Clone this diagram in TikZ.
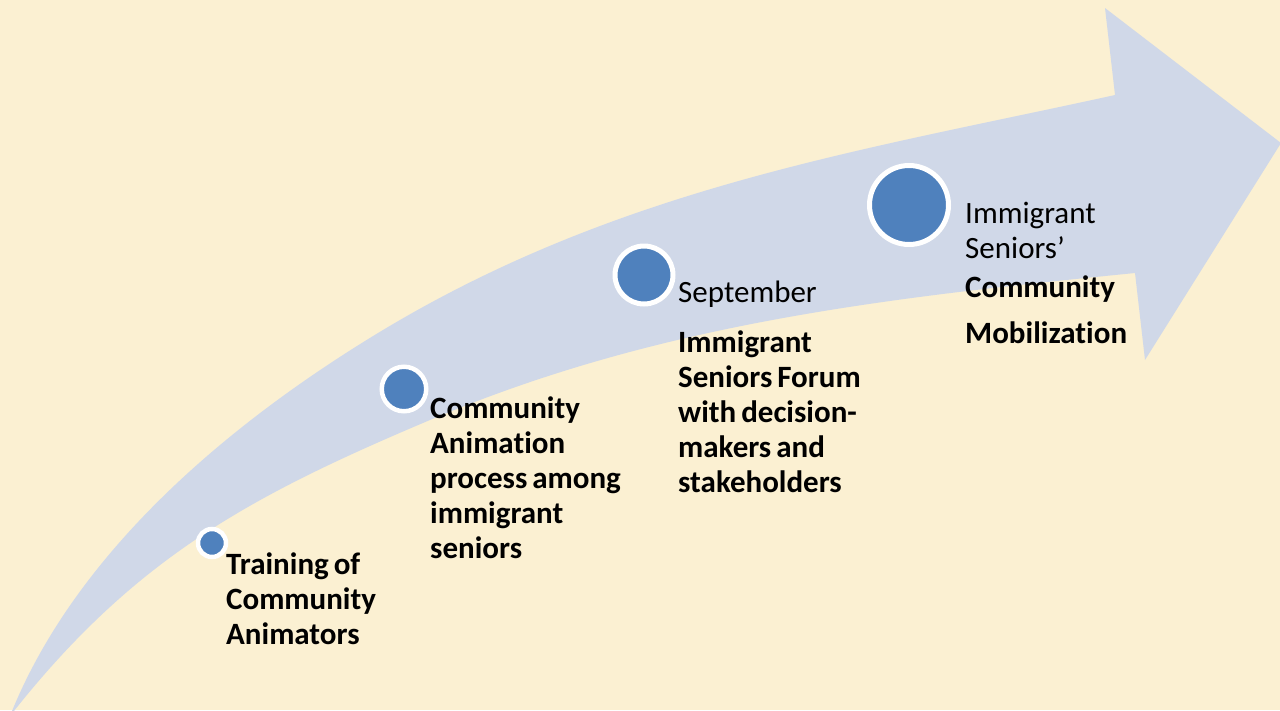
\documentclass[tikz,border=0pt]{standalone}
\usepackage{fontspec}
\setmainfont{Carlito}[Ligatures={TeX,NoCommon}]
\definecolor{bg}{RGB}{251,240,210}
\definecolor{arrowfill}{RGB}{208,216,232}
\definecolor{dotblue}{RGB}{79,129,189}
\newcommand\tightsp{\spaceskip=0.16em plus 0.05em\relax}
\begin{document}
\begin{tikzpicture}[x=1pt,y=-1pt,
  dot/.style={circle,fill=dotblue,draw=white,inner sep=0pt},
  lbl/.style={anchor=base west,inner sep=0pt,align=left,text width=260pt},
  boldtxt/.style={font=\bfseries\fontsize{31}{35}\selectfont},
  regtxt/.style={font=\fontsize{31}{35}\selectfont}]
\fill[bg] (0,0) rectangle (1280,710);
\useasboundingbox (0,0) rectangle (1280,710);
\begin{scope}
\clip (0,0) rectangle (1280,710);
\fill[arrowfill] (10,716) .. controls (80,540) and (250,410) .. (383,330)
  .. controls (623,186) and (865,150) .. (1115,95)
  -- (1105,8) -- (1281,143) -- (1145,360) -- (1135,273)
  .. controls (885,298) and (660,323) .. (430,420)
  .. controls (250,496) and (134,558) .. (10,716) -- cycle;
\end{scope}
\node[dot,minimum size=28pt,line width=4.5pt] (d1) at (212,543) {};
\node[dot,minimum size=44.5pt,line width=4.5pt] (d2) at (404,389) {};
\node[dot,minimum size=58pt,line width=5pt] (d3) at (644,275) {};
\node[dot,minimum size=79pt,line width=5pt] (d4) at (909,205) {};
\node[lbl,boldtxt] (t1) at (226,574) {\tightsp Training of\\Community\\Animators};
\node[lbl,boldtxt] (t2) at (430,418) {\tightsp Community\\Animation\\process among\\immigrant\\seniors};
\node[lbl,regtxt] (t3) at (678,302) {September\\[15pt]\bfseries\tightsp Immigrant\\Seniors Forum\\with decision-\\makers and\\stakeholders};
\node[lbl,regtxt] (t4) at (965,223) {Immigrant\\Seniors’\\[4pt]\bfseries Community\\[11pt]Mobilization};
\end{tikzpicture}
\end{document}
